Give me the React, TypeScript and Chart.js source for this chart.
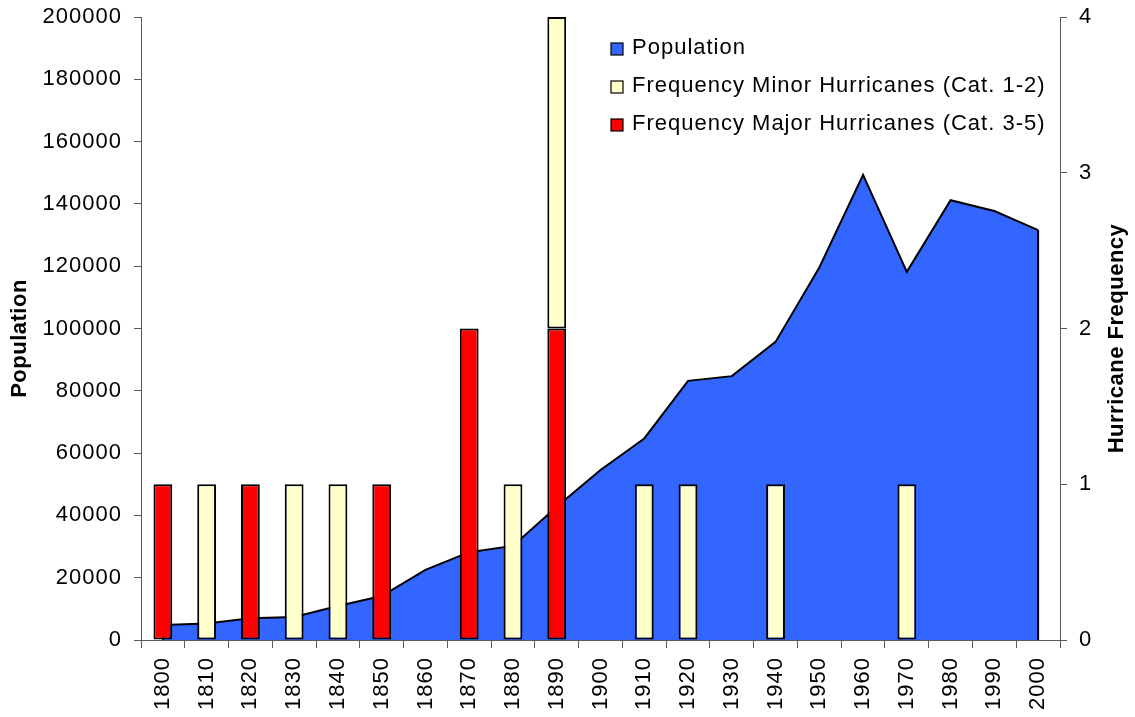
import { useEffect, useRef } from "react";
import { Chart, registerables } from "chart.js";

Chart.register(...registerables);

// Decades along the category axis
const decades = [
  "1800", "1810", "1820", "1830", "1840", "1850", "1860", "1870", "1880", "1890",
  "1900", "1910", "1920", "1930", "1940", "1950", "1960", "1970", "1980", "1990", "2000",
];

// Population per decade (left axis)
const population = [
  4800, 5300, 7000, 7400, 10900, 14100, 22500, 28200, 30200, 42800,
  54600, 64700, 83200, 84700, 95700, 119600, 149300, 118200, 141200, 137700, 131600,
];

// Hurricane counts per decade (right axis); null where none occurred
const majorHurricanes = [
  1, null, 1, null, null, 1, null, 2, null, 2,
  null, null, null, null, null, null, null, null, null, null, null,
];
const minorHurricanes = [
  null, 1, null, 1, 1, null, null, null, 1, 2,
  null, 1, 1, null, 1, null, null, 1, null, null, null,
];

const populationTicks = { min: 0, max: 200000, step: 20000 };
const frequencyTicks = { min: 0, max: 4, step: 1 };

const seriesLabels = {
  population: "Population",
  minor: "Frequency Minor Hurricanes (Cat. 1-2)",
  major: "Frequency Major Hurricanes (Cat. 3-5)",
};
const axisTitles = { left: "Population", right: "Hurricane Frequency" };

const FONT = "'Liberation Sans', Arial, Helvetica, sans-serif";
const AXIS_COLOR = "#5a5a5a";
const SPACING = "1px";

// Canvas letter spacing, applied before measuring and drawing text
const spacingPlugin = {
  id: "letterSpacing",
  beforeUpdate(chart: any) {
    chart.ctx.letterSpacing = SPACING;
  },
  beforeDraw(chart: any) {
    chart.ctx.letterSpacing = SPACING;
  },
};

// Vertical edges closing the population area
const areaEdgesPlugin = {
  id: "areaEdges",
  afterDatasetDraw(chart: any, args: any) {
    if (args.index !== 0) return;
    const meta = chart.getDatasetMeta(0);
    const pts = meta.data;
    if (!pts.length) return;
    const base = chart.scales.y.getPixelForValue(0);
    const ctx = chart.ctx;
    ctx.save();
    ctx.strokeStyle = "#000";
    ctx.lineWidth = 2;
    ctx.beginPath();
    const first = pts[0];
    const last = pts[pts.length - 1];
    ctx.moveTo(first.x, first.y);
    ctx.lineTo(first.x, base);
    ctx.moveTo(last.x, last.y);
    ctx.lineTo(last.x, base);
    ctx.stroke();
    ctx.restore();
  },
};

// Axis titles (both reading bottom-to-top) and the in-plot legend
const decorPlugin = {
  id: "decor",
  afterDraw(chart: any) {
    const ctx = chart.ctx;
    const area = chart.chartArea;
    ctx.save();
    ctx.fillStyle = "#000";
    ctx.letterSpacing = "0.5px";
    ctx.font = `bold 22px ${FONT}`;
    ctx.textAlign = "center";
    ctx.textBaseline = "middle";
    const midY = (area.top + area.bottom) / 2 + 10;
    [
      { text: axisTitles.left, x: 20 },
      { text: axisTitles.right, x: 1117 },
    ].forEach((t) => {
      ctx.save();
      ctx.translate(t.x, midY);
      ctx.rotate(-Math.PI / 2);
      ctx.fillText(t.text, 0, 0);
      ctx.restore();
    });

    // legend: population, minor, major
    ctx.letterSpacing = SPACING;
    ctx.font = `22px ${FONT}`;
    ctx.textAlign = "left";
    ctx.textBaseline = "alphabetic";
    const order = [0, 2, 1];
    const x0 = 611;
    const y0 = 46;
    const rowGap = 38;
    order.forEach((di, row) => {
      const ds = chart.data.datasets[di];
      const cy = y0 + row * rowGap;
      ctx.fillStyle = ds.backgroundColor;
      ctx.fillRect(x0, cy - 3, 12, 12);
      ctx.strokeStyle = "#000";
      ctx.lineWidth = 1.2;
      ctx.strokeRect(x0, cy - 3, 12, 12);
      ctx.fillStyle = "#000";
      ctx.fillText(ds.label, 632, cy + 8);
    });
    ctx.restore();
  },
};

const plainNumber = (v: any) => String(v);

export default function App() {
  const canvasRef = useRef<HTMLCanvasElement>(null);

  useEffect(() => {
    const canvas = canvasRef.current;
    if (!canvas) return;
    Chart.defaults.font.family = FONT;
    Chart.defaults.font.size = 22;
    Chart.defaults.color = "#000";

    const chart = new Chart(canvas, {
      data: {
        labels: decades,
        datasets: [
          {
            type: "line",
            label: seriesLabels.population,
            data: population,
            yAxisID: "y",
            backgroundColor: "#3366FF",
            borderColor: "#000",
            borderWidth: 2,
            fill: "origin",
            tension: 0,
            pointRadius: 0,
            order: 2,
          },
          {
            type: "bar",
            label: seriesLabels.major,
            data: majorHurricanes,
            yAxisID: "y1",
            backgroundColor: "#FF0000",
            borderColor: "#000",
            borderWidth: 2,
            borderSkipped: false,
            barPercentage: 0.43,
            categoryPercentage: 1,
            order: 1,
          },
          {
            type: "bar",
            label: seriesLabels.minor,
            data: minorHurricanes,
            yAxisID: "y1",
            backgroundColor: "#FFFFCC",
            borderColor: "#000",
            borderWidth: 2,
            borderSkipped: false,
            barPercentage: 0.43,
            categoryPercentage: 1,
            order: 1,
          },
        ],
      } as any,
      options: {
        responsive: false,
        animation: false,
        layout: { padding: { top: 17, left: 0, right: 0, bottom: 0 } },
        plugins: {
          legend: { display: false },
          tooltip: { enabled: false },
        },
        scales: {
          x: {
            stacked: true,
            offset: true,
            grid: {
              offset: true,
              drawOnChartArea: false,
              tickLength: 8,
              color: AXIS_COLOR,
            },
            border: { display: true, color: AXIS_COLOR, width: 1 },
            ticks: {
              minRotation: 90,
              maxRotation: 90,
              padding: 9,
              autoSkip: false,
            },
            afterFit(scale: any) {
              scale.height = 77;
              scale.paddingLeft = 0;
              scale.paddingRight = 0;
            },
          },
          y: {
            position: "left",
            min: populationTicks.min,
            max: populationTicks.max,
            grid: { drawOnChartArea: false, tickLength: 7, color: AXIS_COLOR },
            border: { display: true, color: AXIS_COLOR, width: 1 },
            ticks: { stepSize: populationTicks.step, padding: 12, callback: plainNumber },
            afterFit(scale: any) {
              scale.width = 141;
              scale.paddingTop = 0;
              scale.paddingBottom = 0;
            },
          },
          y1: {
            position: "right",
            stacked: true,
            min: frequencyTicks.min,
            max: frequencyTicks.max,
            grid: { drawOnChartArea: false, tickLength: 7, color: AXIS_COLOR },
            border: { display: true, color: AXIS_COLOR, width: 1 },
            ticks: { stepSize: frequencyTicks.step, padding: 12, callback: plainNumber },
            afterFit(scale: any) {
              scale.width = 75;
              scale.paddingTop = 0;
              scale.paddingBottom = 0;
            },
          },
        },
      } as any,
      plugins: [spacingPlugin, areaEdgesPlugin, decorPlugin],
    });

    return () => chart.destroy();
  }, []);

  return (
    <div
      style={{
        position: "fixed",
        left: 0,
        top: 0,
        width: 1135,
        height: 717,
        background: "#fff",
      }}
    >
      <canvas ref={canvasRef} width={1135} height={717} style={{ display: "block" }} />
    </div>
  );
}
